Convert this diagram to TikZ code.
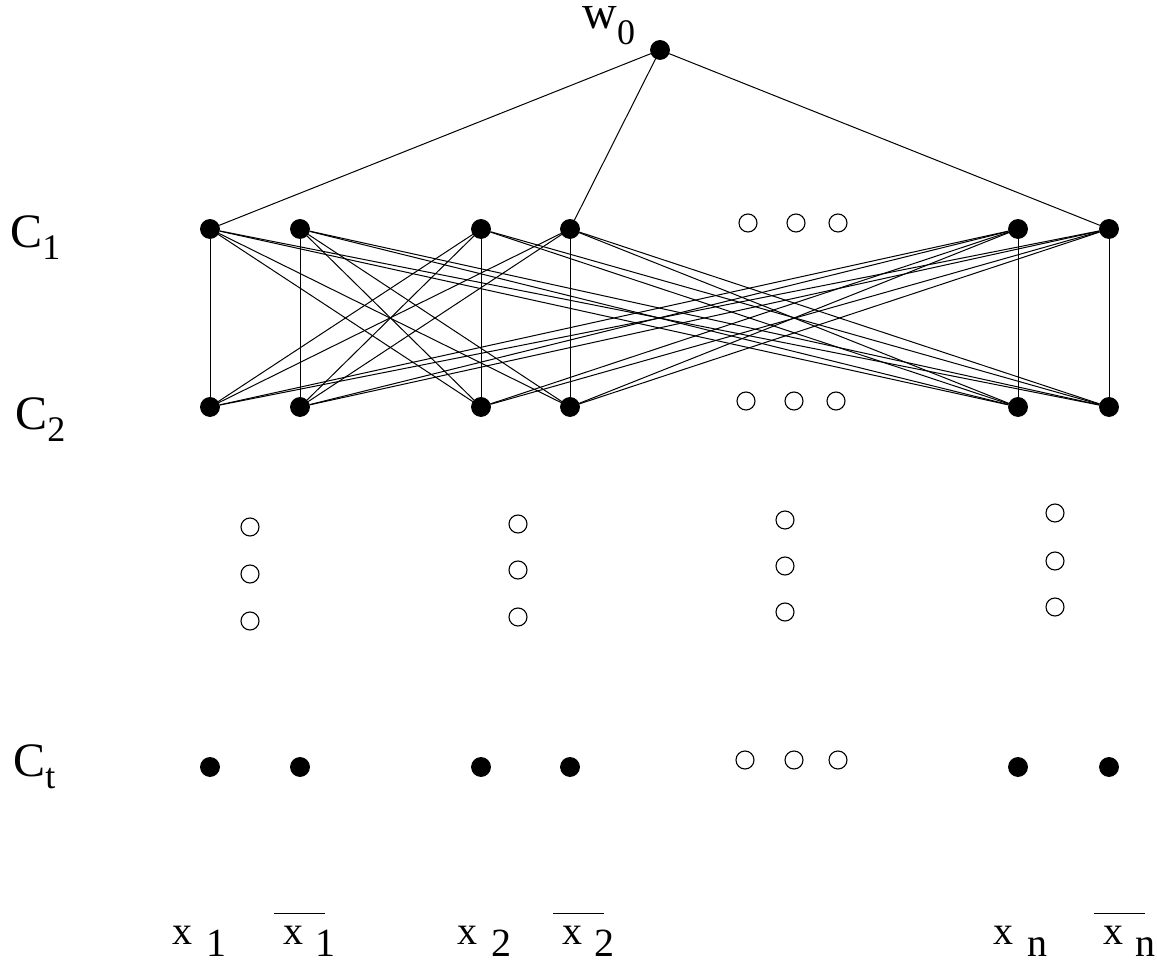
\documentclass[tikz,border=0pt]{standalone}
\usepackage{fontspec}
\setmainfont{Liberation Serif}
\usetikzlibrary{positioning}

% literal and negated literal labels
\newcommand{\lit}[1]{x\hspace{7pt}\raisebox{-6pt}{#1}}
\newcommand{\nlit}[1]{\makebox[0pt][l]{\hspace{-4.5pt}\rule[15pt]{25.5pt}{0.6pt}}x\hspace{6pt}\raisebox{-6pt}{#1}}
\newcommand{\lvlsub}[1]{C\raisebox{-6pt}{\fontsize{18}{18}\selectfont #1}}

\begin{document}
\begin{tikzpicture}[
  x=0.5pt, y=-0.5pt,
  gate/.style={circle, fill=black, draw=black, inner sep=0pt, minimum size=9.5pt},
  etc/.style={circle, draw=black, line width=0.55pt, inner sep=0pt, minimum size=9pt},
  wire/.style={line width=0.5pt},
  lvl/.style={anchor=base west, inner sep=0pt, font=\fontsize{24}{24}\selectfont},
  var/.style={anchor=base west, inner sep=0pt, font=\fontsize{20}{20}\selectfont}
]
\useasboundingbox (0,0) rectangle (1157,977);

% output gate
\node[gate] (w0) at (660,50) {};
\node[lvl, text height=11pt] (w0lbl) at (582,29) {w\raisebox{-8pt}{\fontsize{18}{18}\selectfont 0}};

% level labels
\node[lvl] (c1lbl) at (10,248) {\lvlsub{1}};
\node[lvl] (c2lbl) at (15,430) {\lvlsub{2}};
\node[lvl] (ctlbl) at (13,777) {\lvlsub{t}};

% gates of C_1, C_2 and C_t
\foreach \i/\x in {1/210, 2/300, 3/481, 4/570, 5/1018, 6/1109} {
  \node[gate] (c1-\i) at (\x,229) {};
  \node[gate] (c2-\i) at (\x,407) {};
  \node[gate] (ct-\i) at (\x,767) {};
}

% horizontal ellipses
\node[etc] (e1a) at (748,223) {};
\node[etc] (e1b) at (796,223) {};
\node[etc] (e1c) at (838,223) {};
\node[etc] (e2a) at (746,401) {};
\node[etc] (e2b) at (794,401) {};
\node[etc] (e2c) at (836,401) {};
\node[etc] (eta) at (745,760) {};
\node[etc] (etb) at (794,760) {};
\node[etc] (etc) at (838,760) {};

% vertical ellipses
\foreach \k/\x/\ya/\yb/\yc in {1/250/527/574/621, 2/518/524/570/617,
                               3/785/520/566/612, 4/1055/513/561/607} {
  \node[etc] (v\k a) at (\x,\ya) {};
  \node[etc] (v\k b) at (\x,\yb) {};
  \node[etc] (v\k c) at (\x,\yc) {};
}

% wires
\draw[wire] (w0) -- (c1-1);
\draw[wire] (w0) -- (c1-4);
\draw[wire] (w0) -- (c1-6);

\foreach \a/\b in {1/1,1/3,1/4,1/5,1/6, 2/2,2/3,2/4,2/5,2/6,
                   3/1,3/2,3/3,3/5,3/6, 4/1,4/2,4/4,4/5,4/6,
                   5/1,5/2,5/3,5/4,5/5, 6/1,6/2,6/3,6/4,6/6}
  \draw[wire] (c1-\a) -- (c2-\b);

% input literals
\node[var] (x1)  at (172,944)  {\lit{1}};
\node[var] (nx1) at (283,944)  {\nlit{1}};
\node[var] (x2)  at (457,944)  {\lit{2}};
\node[var] (nx2) at (562,944)  {\nlit{2}};
\node[var] (xn)  at (993,944)  {\lit{n}};
\node[var] (nxn) at (1103,944) {\nlit{n}};

\end{tikzpicture}
\end{document}
